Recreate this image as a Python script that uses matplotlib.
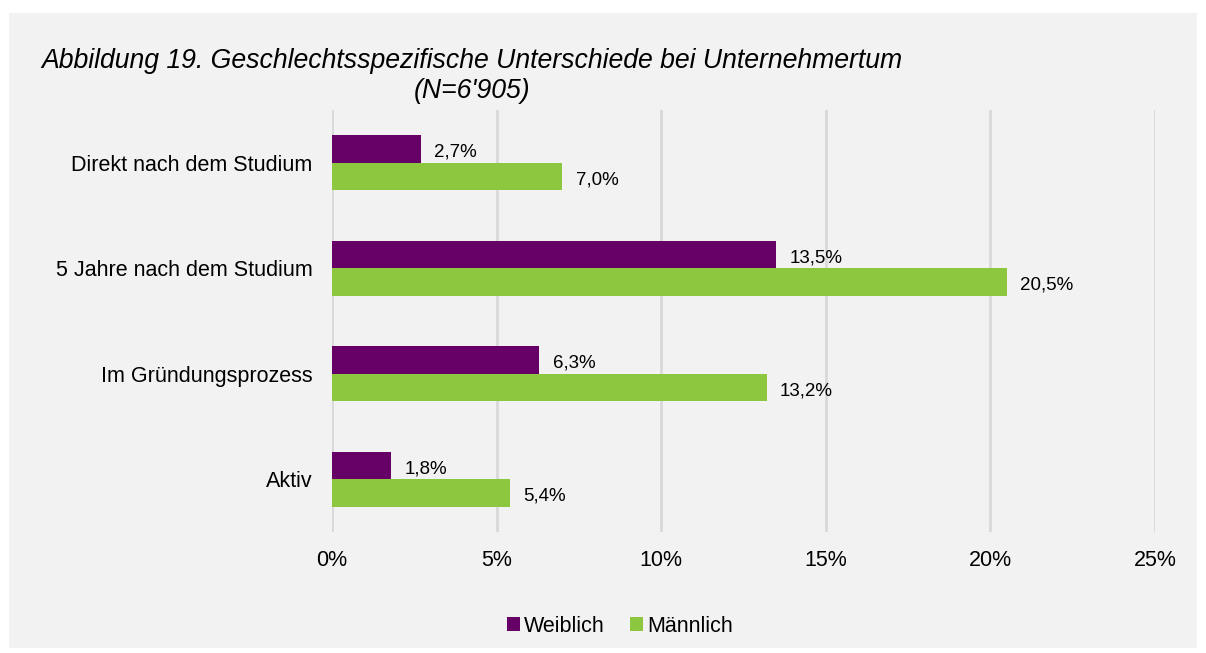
import matplotlib.pyplot as plt
from matplotlib.patches import Rectangle

categories = ['Direkt nach dem Studium', '5 Jahre nach dem Studium', 'Im Gründungsprozess', 'Aktiv']
weiblich = [2.7, 13.5, 6.3, 1.8]
maennlich = [7.0, 20.5, 13.2, 5.4]
xticks = [0, 5, 10, 15, 20, 25]

plt.rcParams['font.family'] = ['Liberation Sans', 'DejaVu Sans']

fig = plt.figure(figsize=(12.06, 6.53), dpi=100, facecolor='white')
fig.patches.append(Rectangle((9 / 1206, 1 - 648 / 653), 1188 / 1206, 635 / 653,
                             transform=fig.transFigure, facecolor='#f2f2f2',
                             edgecolor='none', zorder=-10))

ax = fig.add_axes([332 / 1206, 1 - 532 / 653, 823 / 1206, 422 / 653])
ax.set_facecolor('none')

y = list(range(len(categories)))
h = 0.26
ax.barh([i - h / 2 for i in y], weiblich, height=h, color='#660066', label='Weiblich', zorder=3)
ax.barh([i + h / 2 for i in y], maennlich, height=h, color='#8dc63f', label='Männlich', zorder=3)

for i in y:
    ax.text(weiblich[i] + 0.4, i - h / 2 + 0.03, f'{weiblich[i]:.1f}%'.replace('.', ','),
            va='center', ha='left', fontsize=13.5)
    ax.text(maennlich[i] + 0.4, i + h / 2 + 0.03, f'{maennlich[i]:.1f}%'.replace('.', ','),
            va='center', ha='left', fontsize=13.5)

ax.set_ylim(3.5, -0.5)
ax.set_xlim(0, 25)
ax.set_yticks(y)
ax.set_yticklabels(categories, fontsize=15.5)
ax.set_xticks(xticks)
ax.set_xticklabels([f'{t}%' for t in xticks], fontsize=15.5)
ax.tick_params(length=0, pad=13, axis='x')
ax.tick_params(length=0, pad=14, axis='y')
ax.grid(axis='x', color='#d9d9d9', linewidth=2, zorder=0)
for s in ax.spines.values():
    s.set_visible(False)

fig.text(472 / 1206, 1 - 76 / 653, 'Abbildung 19. Geschlechtsspezifische Unterschiede bei Unternehmertum\n(N=6\'905)',
         ha='center', va='center', style='italic', fontsize=19.2, linespacing=1.2)

fig.legend(loc='center', bbox_to_anchor=(620 / 1206, 1 - 626 / 653), ncol=2, frameon=False,
           fontsize=15.5, handlelength=0.6, handleheight=0.6, handletextpad=0.2, columnspacing=1.2)

fig.savefig('out.png', dpi=100, facecolor='white')
